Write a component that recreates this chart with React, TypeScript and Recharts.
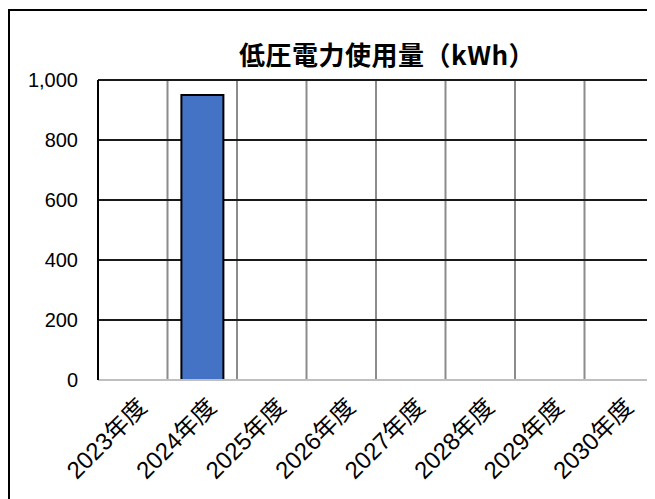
import { Bar, BarChart, CartesianGrid, XAxis, YAxis } from "recharts";

const years = ["2023年度", "2024年度", "2025年度", "2026年度", "2027年度", "2028年度", "2029年度", "2030年度"];
const usage = [null, 950, null, null, null, null, null, null];
const yTicks = [0, 200, 400, 600, 800, 1000];

const data = years.map((year, i) => ({ year, usage: usage[i] }));

const FONT = "'Liberation Sans', 'Noto Sans CJK JP', sans-serif";

const XTick = (props: any) => {
  const { x, y, payload } = props;
  return (
    <g transform={`translate(${x + 2},${y + 15})`}>
      <text transform="rotate(-45)" textAnchor="end" dy="0.8em" fontSize={24} fill="#000" fontFamily={FONT}>
        {payload.value}
      </text>
    </g>
  );
};

// category boundaries instead of centers
const boundaryLines = ({ offset }: any) =>
  years.map((_, i) => offset.left + (i * offset.width) / years.length);

export default function App() {
  return (
    <div
      style={{
        position: "relative",
        width: 647,
        height: 490,
        marginTop: 1,
        boxSizing: "border-box",
        borderLeft: "2px solid #000",
        borderTop: "2px solid #000",
        overflow: "hidden",
        background: "#fff",
        fontFamily: FONT,
      }}
    >
      <div
        style={{
          position: "absolute",
          left: 377,
          top: 30,
          transform: "translateX(-50%)",
          whiteSpace: "nowrap",
          fontSize: 26,
          lineHeight: "26px",
          letterSpacing: 0.5,
          fontWeight: "bold",
          fontFamily: "'Noto Sans CJK JP', sans-serif",
          color: "#000",
        }}
      >
        低圧電力使用量（kWh）
      </div>
      <BarChart
        width={645}
        height={488}
        data={data}
        margin={{ top: 69, right: 0, left: 0, bottom: 0 }}
        barCategoryGap="20%"
      >
        <CartesianGrid
          horizontal={false}
          stroke="#8c8c8c"
          strokeWidth={2}
          verticalCoordinatesGenerator={boundaryLines}
        />
        <CartesianGrid vertical={false} stroke="#1a1a1a" strokeWidth={2} />
        <XAxis
          dataKey="year"
          interval={0}
          height={119}
          tickLine={false}
          tickSize={0}
          tickMargin={0}
          axisLine={{ stroke: "#bfbfbf", strokeWidth: 2 }}
          tick={<XTick />}
        />
        <YAxis
          width={88}
          domain={[0, 1000]}
          ticks={yTicks}
          tickFormatter={(v: number) => v.toLocaleString("en-US")}
          tickLine={false}
          tickSize={0}
          tickMargin={20}
          axisLine={{ stroke: "#000", strokeWidth: 2 }}
          tick={{ fontSize: 20, fill: "#000", fontFamily: FONT }}
        />
        <YAxis
          yAxisId="right"
          orientation="right"
          width={1}
          domain={[0, 1000]}
          tick={false}
          tickLine={false}
          axisLine={{ stroke: "#000", strokeWidth: 2 }}
        />
        <Bar dataKey="usage" fill="#4472c4" stroke="#000" strokeWidth={2} isAnimationActive={false} />
      </BarChart>
    </div>
  );
}
